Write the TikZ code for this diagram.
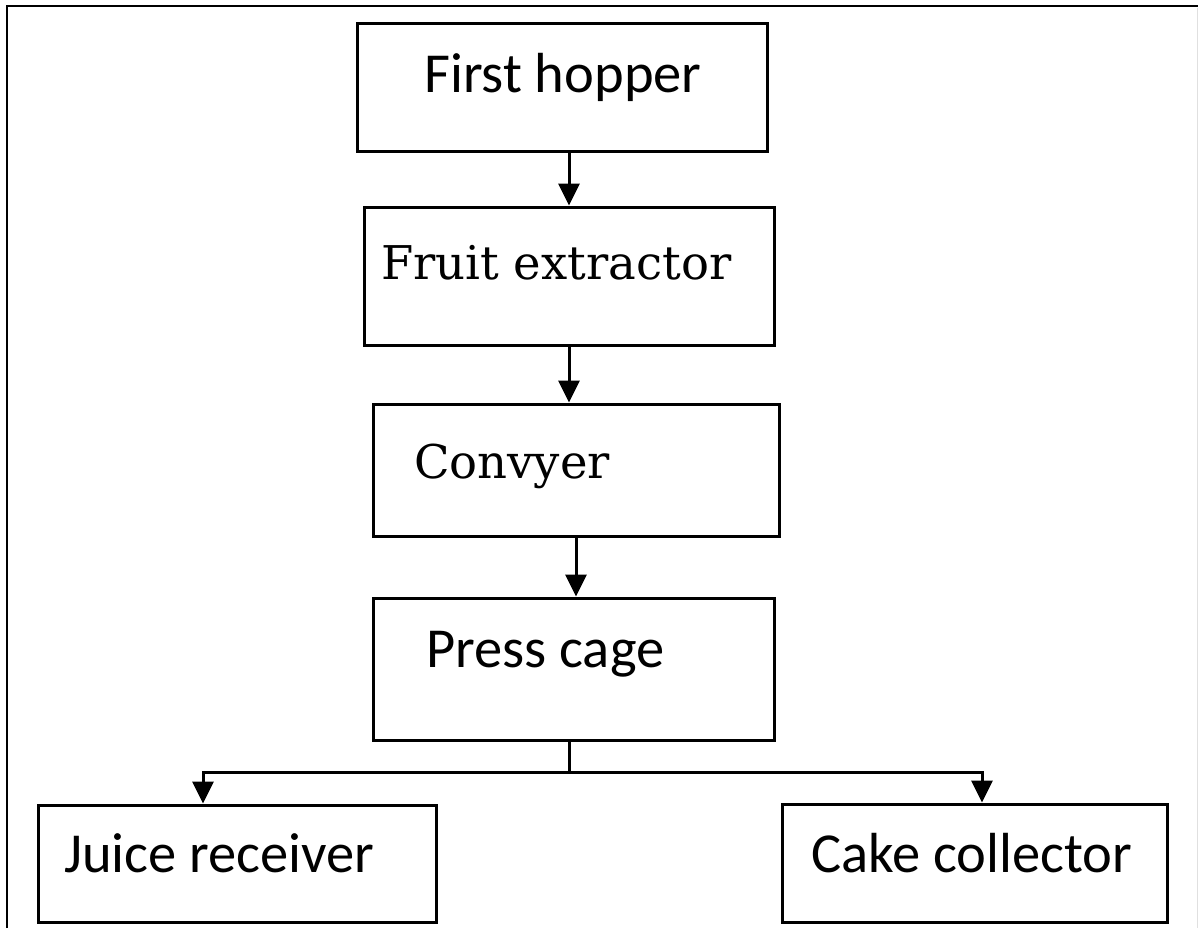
\documentclass[tikz,border=0pt]{standalone}
\usepackage{fontspec}
\usetikzlibrary{arrows.meta}
\newfontfamily\sanslabel{Carlito}
\newfontfamily\seriflabel{DejaVu Serif}
\begin{document}
\begin{tikzpicture}[x=1pt,y=-1pt,
  stagebox/.style={draw, line width=3pt, inner sep=0pt, rectangle},
  sanstext/.style={anchor=base west, inner sep=0pt, font=\sanslabel\fontsize{56.5}{60}\selectfont},
  seriftext/.style={anchor=base west, inner sep=0pt, font=\seriflabel\fontsize{46.5}{50}\selectfont},
  flow/.style={line width=3pt, -{Triangle[length=22pt,width=21pt]}},
  link/.style={line width=3pt}]
  % canvas
  \useasboundingbox (0,0) rectangle (1198,928);
  \fill[white] (0,0) rectangle (1198,928);
  % frame
  \draw[line width=2.5pt] (7,928) -- (7,6) -- (1198,6);
  \draw[black!12, line width=1pt] (1197,8) -- (1197,928);

  % stage boxes
  \node[stagebox, minimum width=410pt, minimum height=128pt] (hop)   at (562,88)    {};
  \node[stagebox, minimum width=410pt, minimum height=138pt] (ext)   at (569,276)   {};
  \node[stagebox, minimum width=406pt, minimum height=132pt] (conv)  at (576,470)   {};
  \node[stagebox, minimum width=401pt, minimum height=142pt] (press) at (573.5,669) {};
  \node[stagebox, minimum width=398pt, minimum height=117pt] (juice) at (237,863.5) {};
  \node[stagebox, minimum width=385pt, minimum height=118pt] (cake)  at (974.5,863) {};

  % labels
  \node[sanstext]  (hopt)   at (424,93)  {First hopper};
  \node[seriftext] (extt)   at (381,279) {Fruit extractor};
  \node[seriftext] (convt)  at (414,478) {Convyer};
  \node[sanstext]  (presst) at (426,667) {Press cage};
  \node[sanstext]  (juicet) at (64,872)  {Juice receiver};
  \node[sanstext]  (caket)  at (811,872) {Cake collector};

  % main line
  \draw[flow] (hop.south -| ext.north) -- (ext.north);
  \draw[flow] (ext.south) -- (ext.south |- conv.north);
  \draw[flow] (conv.south) -- (conv.south |- press.north);

  % split to the two outputs
  \coordinate (split) at (569,772);
  \draw[link] (press.south -| split) -- (split);
  \draw[flow] (split) -| ([xshift=-34pt]juice.north);
  \draw[flow] (split) -| ([xshift=7.5pt]cake.north);
\end{tikzpicture}
\end{document}
